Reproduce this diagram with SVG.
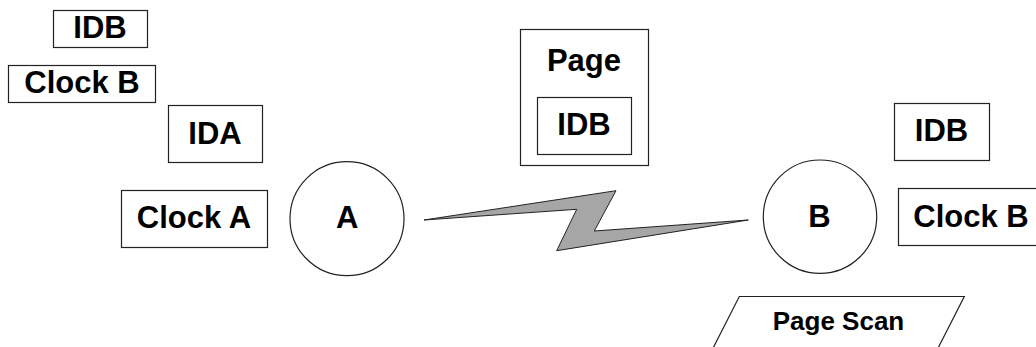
<svg xmlns="http://www.w3.org/2000/svg" width="1036" height="347" viewBox="0 0 1036 347">
<style>
.box{fill:#fff;stroke:#222;stroke-width:1.2}
.t{font-family:"Liberation Sans",Arial,sans-serif;font-weight:bold;font-size:31px;fill:#000;text-anchor:middle}
.s{font-size:26px}
</style>
<rect width="1036" height="347" fill="#fff"/>
<g id="connectors">
<polygon points="424,220 616,190.7 594.3,231 748.3,220 556.7,250.7 576.7,209.3" fill="#a6a6a6" stroke="#222" stroke-width="1" stroke-linejoin="miter"/>
</g>
<g id="idb-top"><rect class="box" x="53.5" y="10.5" width="94" height="37"/><text class="t" x="100" y="37.5">IDB</text></g>
<g id="clockb-top"><rect class="box" x="8.5" y="65.5" width="147" height="37"/><text class="t" x="82" y="93">Clock B</text></g>
<g id="ida"><rect class="box" x="168.5" y="105.5" width="94" height="57"/><text class="t" x="215" y="143.5">IDA</text></g>
<g id="clocka"><rect class="box" x="121.5" y="190.5" width="146" height="57"/><text class="t" x="194" y="228">Clock A</text></g>
<g id="nodeA"><circle cx="347" cy="218.7" r="57" fill="#fff" stroke="#222" stroke-width="1.2"/><text class="t" x="347.3" y="228">A</text></g>
<g id="page"><rect class="box" x="520.5" y="29.5" width="128" height="136"/><text class="t" x="584" y="71">Page</text>
<rect class="box" x="537.5" y="97.5" width="94" height="57"/><text class="t" x="584" y="135">IDB</text></g>
<g id="nodeB"><circle cx="820" cy="216.7" r="56.7" fill="#fff" stroke="#222" stroke-width="1.2"/><text class="t" x="819.5" y="226.5">B</text></g>
<g id="idb-right"><rect class="box" x="894.5" y="103.5" width="95" height="57"/><text class="t" x="941.5" y="140.5">IDB</text></g>
<g id="clockb-right"><rect class="box" x="898.5" y="188.5" width="150" height="57"/><text class="t" x="971" y="227">Clock B</text></g>
<g id="pagescan"><polygon points="739.3,296.5 964.3,296.5 932,360 707,360" fill="#fff" stroke="#222" stroke-width="1.2"/><text class="t s" x="838.5" y="330">Page Scan</text></g>
</svg>
